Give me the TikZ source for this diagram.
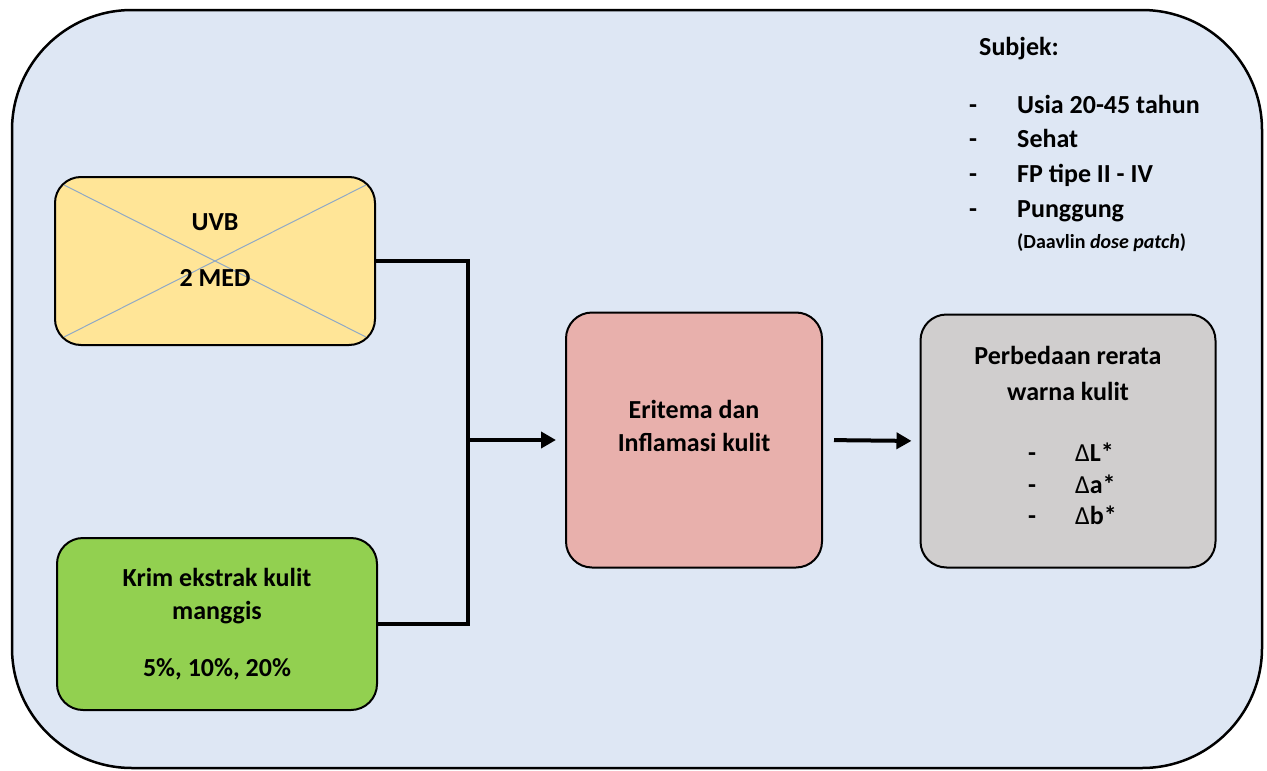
\documentclass[tikz,border=0pt]{standalone}
\usepackage{fontspec}
\setmainfont{Carlito}
\usetikzlibrary{arrows.meta,calc}
\definecolor{bgblue}{HTML}{DEE7F4}
\definecolor{uvbyellow}{HTML}{FFE597}
\definecolor{krimgreen}{HTML}{92D050}
\definecolor{erpink}{HTML}{E8B0AC}
\definecolor{resgray}{HTML}{D0CECE}
\definecolor{crossblue}{HTML}{8FA9C6}
\tikzset{
  box/.style={draw=black, line width=2pt, rounded corners=26pt, rectangle, inner sep=0pt},
  txt/.style={anchor=base, inner sep=0pt, font=\fontsize{26}{32}\selectfont\bfseries},
  smalltxt/.style={anchor=base west, inner sep=0pt, font=\fontsize{20}{24}\selectfont\bfseries},
  conn/.style={draw=black, line width=4pt},
  arr/.style={conn, -{Triangle[length=15pt,width=16pt]}},
}
\begin{document}
\begin{tikzpicture}[x=1pt,y=-1pt]
\useasboundingbox (0,0) rectangle (1267,771);
% outer frame
\draw[fill=bgblue, line width=2.5pt, rounded corners=120pt] (12,10) rectangle (1262,768);

% boxes
\node[box, fill=uvbyellow, minimum width=320pt, minimum height=168pt] (uvb) at (215,261) {};
\draw[crossblue, line width=1pt] ($(uvb.north west)+(10,9)$) -- ($(uvb.south east)+(-10,-9)$);
\draw[crossblue, line width=1pt] ($(uvb.south west)+(10,-9)$) -- ($(uvb.north east)+(-10,9)$);
\node[box, fill=krimgreen, minimum width=320pt, minimum height=172pt] (krim) at (217,624) {};
\node[box, fill=erpink, minimum width=256pt, minimum height=255pt] (erit) at (694,440) {};
\node[box, fill=resgray, minimum width=295pt, minimum height=253pt] (hasil) at (1068,441) {};

% texts in boxes
\node[txt] (t1) at (215,230) {UVB};
\node[txt] (t2) at (215,286) {2 MED};
\node[txt] (t3) at (217,586) {Krim ekstrak kulit};
\node[txt] (t4) at (217,619) {manggis};
\node[txt] (t5) at (217,676) {5\%, 10\%, 20\%};
\node[txt] (t6) at (694,418) {Eritema dan};
\node[txt] (t7) at (694,451) {Inflamasi kulit};
\node[txt] (t8) at (1068,364) {Perbedaan rerata};
\node[txt] (t9) at (1068,400) {warna kulit};
\node[txt] (d1) at (1032,461) {-};
\node[txt] (d2) at (1032,493) {-};
\node[txt] (d3) at (1032,524) {-};
\node[txt, anchor=base west] (l1) at (1075,461) {{\mdseries Δ}L*};
\node[txt, anchor=base west] (l2) at (1075,493) {{\mdseries Δ}a*};
\node[txt, anchor=base west] (l3) at (1075,524) {{\mdseries Δ}b*};

% subject list
\node[txt, anchor=base west] (subj) at (979,55) {Subjek:};
\node[txt] (s1d) at (973,113) {-};
\node[txt] (s2d) at (973,147) {-};
\node[txt] (s3d) at (973,182) {-};
\node[txt] (s4d) at (973,217) {-};
\node[txt, anchor=base west] (s1) at (1017,113) {Usia 20-45 tahun};
\node[txt, anchor=base west] (s2) at (1017,147) {Sehat};
\node[txt, anchor=base west] (s3) at (1017,182) {FP tipe II - IV};
\node[txt, anchor=base west] (s4) at (1017,217) {Punggung};
\node[smalltxt] (s5) at (1017,248) {(Daavlin \textit{dose patch})};

% connectors
\coordinate (j) at (468,440);
\draw[conn] (uvb.east) -| (j) |- (krim.east);
\draw[arr, shorten >=9pt] (j) -- (erit.west);
\draw[arr, shorten <=11pt, shorten >=8pt] (erit.east) -- (hasil.west);
\end{tikzpicture}
\end{document}
